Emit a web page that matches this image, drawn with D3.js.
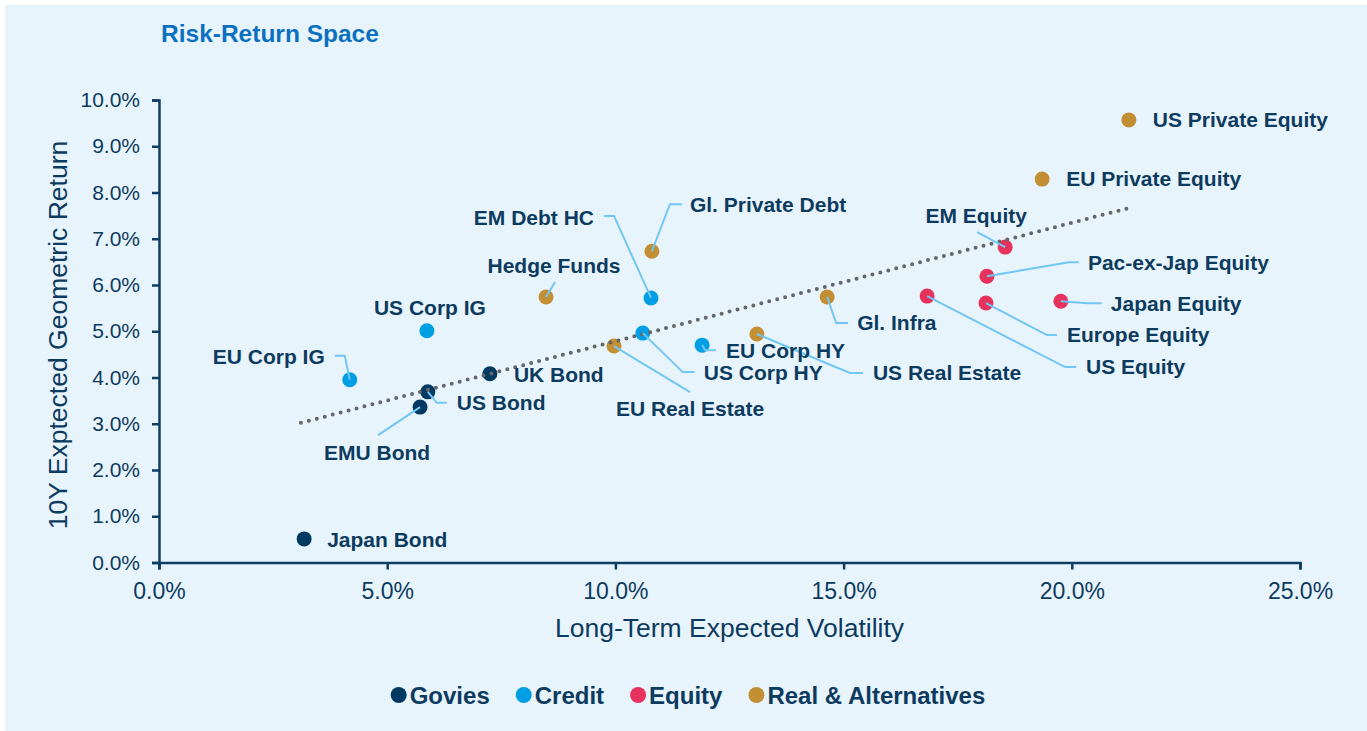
<!DOCTYPE html>
<html>
<head>
<meta charset="utf-8">
<script src="https://cdn.jsdelivr.net/npm/d3@7"></script>
<style>
  body { margin: 0; background: #fff; }
  text { font-family: "Liberation Sans", Arial, sans-serif; }
</style>
</head>
<body>
<div id="chart"></div>
<script>
// data
const assets = ["Japan Bond", "EMU Bond", "US Bond", "UK Bond",
  "EU Corp IG", "US Corp IG", "EM Debt HC", "US Corp HY", "EU Corp HY",
  "Hedge Funds", "Gl. Private Debt", "EU Real Estate", "US Real Estate", "Gl. Infra",
  "US Equity", "EM Equity", "Pac-ex-Jap Equity", "Europe Equity", "Japan Equity",
  "EU Private Equity", "US Private Equity"];
const volatility = [3.18, 5.72, 5.89, 7.25,
  4.18, 5.87, 10.78, 10.60, 11.90,
  8.48, 10.80, 9.97, 13.10, 14.64,
  16.83, 18.54, 18.14, 18.12, 19.76,
  19.35, 21.25];
const expReturn = [0.51, 3.36, 3.69, 4.08,
  3.95, 5.01, 5.72, 4.96, 4.70,
  5.74, 6.73, 4.68, 4.94, 5.74,
  5.76, 6.82, 6.19, 5.61, 5.65,
  8.29, 9.57];
const assetGroup = ["Govies", "Govies", "Govies", "Govies",
  "Credit", "Credit", "Credit", "Credit", "Credit",
  "Real & Alternatives", "Real & Alternatives", "Real & Alternatives", "Real & Alternatives", "Real & Alternatives",
  "Equity", "Equity", "Equity", "Equity", "Equity",
  "Real & Alternatives", "Real & Alternatives"];
const groups = ["Govies", "Credit", "Equity", "Real & Alternatives"];
const xTicks = [0, 5, 10, 15, 20, 25];
const yTicks = [0, 1, 2, 3, 4, 5, 6, 7, 8, 9, 10];
// dotted trend line end points (vol, return)
const trendVol = [3.11, 21.27];
const trendRet = [3.02, 7.67];

// label placement, pixel offsets from each point (layout only)
const labelLayout = {
  "Japan Bond":        { dx: 23,  dy: 8,   anchor: "start" },
  "EMU Bond":          { dx: -43, dy: 53,  anchor: "middle", leader: [[0,0],[-42,28]] },
  "US Bond":           { dx: 29,  dy: 18,  anchor: "start",  leader: [[0,0],[9,11],[19,11]] },
  "UK Bond":           { dx: 24,  dy: 8,   anchor: "start" },
  "EU Corp IG":        { dx: -25, dy: -16, anchor: "end",    leader: [[0,0],[-5,-24],[-15,-24]] },
  "US Corp IG":        { dx: 3,   dy: -16, anchor: "middle" },
  "EM Debt HC":        { dx: -57, dy: -73, anchor: "end",    leader: [[0,0],[-37,-82],[-47,-82]] },
  "US Corp HY":        { dx: 61,  dy: 47,  anchor: "start",  leader: [[0,0],[40,39],[52,39]] },
  "EU Corp HY":        { dx: 24,  dy: 13,  anchor: "start",  leader: [[0,0],[3,5],[14,5]] },
  "Hedge Funds":       { dx: 8,   dy: -24, anchor: "middle", leader: [[0,0],[9,-15]] },
  "Gl. Private Debt":  { dx: 38,  dy: -39, anchor: "start",  leader: [[0,0],[18,-47],[30,-47]] },
  "EU Real Estate":    { dx: 76,  dy: 70,  anchor: "middle", leader: [[0,0],[76,46]] },
  "US Real Estate":    { dx: 116, dy: 46,  anchor: "start",  leader: [[0,0],[93,39],[106,39]] },
  "Gl. Infra":         { dx: 30,  dy: 33,  anchor: "start",  leader: [[0,0],[9,26],[21,26]] },
  "US Equity":         { dx: 159, dy: 78,  anchor: "start",  leader: [[0,0],[138,71],[149,71]] },
  "EM Equity":         { dx: -29, dy: -24, anchor: "middle", leader: [[0,0],[-28,-15]] },
  "Pac-ex-Jap Equity": { dx: 101, dy: -6,  anchor: "start",  leader: [[0,0],[82,-14],[92,-14]] },
  "Europe Equity":     { dx: 81,  dy: 39,  anchor: "start",  leader: [[0,0],[61,32],[71,32]] },
  "Japan Equity":      { dx: 50,  dy: 10,  anchor: "start",  leader: [[0,0],[27,2],[41,2]] },
  "EU Private Equity": { dx: 24,  dy: 7,   anchor: "start" },
  "US Private Equity": { dx: 24,  dy: 7,   anchor: "start" }
};

const width = 1367, height = 731,
    margin = ({ top: 100, right: 67, bottom: 168.5, left: 159 });

const navy = "#0d3b5f",
    leaderColor = "#72c6f4";

const color = d3.scaleOrdinal()
    .domain(groups)
    .range(["#003a63", "#009fe3", "#e6325d", "#c38f34"]);

const svg = d3.select("#chart")
    .append("svg")
    .attr("width", width)
    .attr("height", height);

svg.append("rect")
    .attr("x", 5).attr("y", 5)
    .attr("width", width - 5).attr("height", height - 5)
    .attr("fill", "#e8f4fc");

const data = assets.map((name, i) => ({
    name: name, vol: volatility[i], ret: expReturn[i], group: assetGroup[i]
}));

let x = d3.scaleLinear()
    .domain([0, 25])
    .range([margin.left, width - margin.right]);

let y = d3.scaleLinear()
    .domain([0, 10])
    .range([height - margin.bottom, margin.top]);

// title
svg.append("text")
    .attr("x", 161)
    .attr("y", 42)
    .attr("font-size", 24.5)
    .attr("font-weight", "bold")
    .attr("fill", "#0b70c0")
    .text("Risk-Return Space");

// axes
const xAxis = svg.append("g")
    .attr("transform", `translate(0,${y(0)})`)
    .call(d3.axisBottom(x).tickValues(xTicks).tickFormat(d => d.toFixed(1) + "%")
        .tickSize(7).tickSizeOuter(7).tickPadding(13));
xAxis.selectAll("text").attr("font-size", 23).attr("fill", navy).attr("font-family", null);

const yAxis = svg.append("g")
    .attr("transform", `translate(${x(0)},0)`)
    .call(d3.axisLeft(y).tickValues(yTicks).tickFormat(d => d.toFixed(1) + "%")
        .tickSize(7).tickSizeOuter(7).tickPadding(12));
yAxis.selectAll("text").attr("font-size", 21).attr("fill", navy).attr("font-family", null);

svg.selectAll(".domain, .tick line")
    .attr("stroke", "#0d3d63")
    .attr("stroke-width", 2.5);

svg.append("text")
    .attr("x", (x(0) + x(25)) / 2)
    .attr("y", 637)
    .attr("text-anchor", "middle")
    .attr("font-size", 26.5)
    .attr("fill", navy)
    .text("Long-Term Expected Volatility");

svg.append("text")
    .attr("transform", "translate(67,335) rotate(-90)")
    .attr("text-anchor", "middle")
    .attr("font-size", 26.5)
    .attr("fill", navy)
    .text("10Y Exptected Geometric Return");

// points
svg.append("g")
  .selectAll("circle")
  .data(data)
  .join("circle")
    .attr("cx", d => x(d.vol))
    .attr("cy", d => y(d.ret))
    .attr("r", 7.5)
    .attr("fill", d => color(d.group));

// dotted trend line
let trend = trendVol.map((v, i) => [v, trendRet[i]]);
svg.append("path")
    .datum(trend)
    .attr("d", d3.line().x(d => x(d[0])).y(d => y(d[1])))
    .attr("fill", "none")
    .attr("stroke", "#666")
    .attr("stroke-width", 4)
    .attr("stroke-linecap", "round")
    .attr("stroke-dasharray", "0,8.2");

// leader lines
svg.append("g")
  .selectAll("path")
  .data(data.filter(d => labelLayout[d.name].leader))
  .join("path")
    .attr("d", d => d3.line()(labelLayout[d.name].leader.map(p => [x(d.vol) + p[0], y(d.ret) + p[1]])))
    .attr("fill", "none")
    .attr("stroke", leaderColor)
    .attr("stroke-width", 2);

// labels
svg.append("g")
  .selectAll("text")
  .data(data)
  .join("text")
    .attr("x", d => x(d.vol) + labelLayout[d.name].dx)
    .attr("y", d => y(d.ret) + labelLayout[d.name].dy)
    .attr("text-anchor", d => labelLayout[d.name].anchor)
    .attr("font-size", 21)
    .attr("font-weight", "bold")
    .attr("fill", navy)
    .text(d => d.name);

// legend
const legend = svg.append("g");
const items = legend.selectAll("g")
  .data(groups)
  .join("g");
items.append("circle")
    .attr("r", 8)
    .attr("cy", 0)
    .attr("fill", d => color(d));
items.append("text")
    .attr("x", 11)
    .attr("y", 8.5)
    .attr("font-size", 24)
    .attr("font-weight", "bold")
    .attr("fill", navy)
    .text(d => d);

let offset = 0;
items.each(function() {
    const w = this.querySelector("text").getComputedTextLength();
    d3.select(this).attr("transform", `translate(${offset},0)`);
    offset += 11 + w + 34;
});
const legendWidth = offset - 34 + 8;
legend.attr("transform", `translate(${688 - legendWidth / 2 + 8},695)`);
</script>
</body>
</html>
